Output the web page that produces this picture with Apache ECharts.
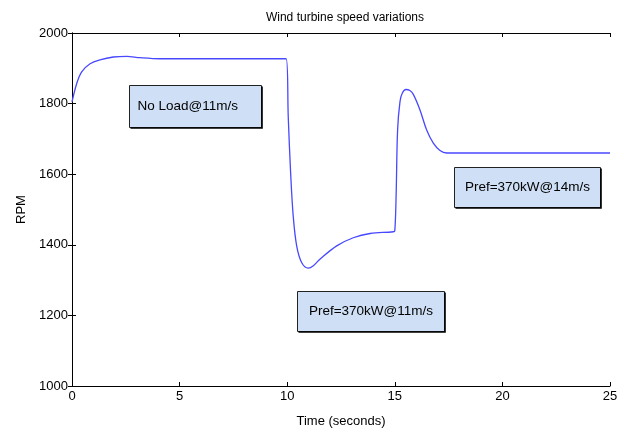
<!DOCTYPE html>
<html><head><meta charset="utf-8">
<script src="https://cdn.jsdelivr.net/npm/echarts@6/dist/echarts.min.js"></script>
<style>html,body{margin:0;padding:0;background:#fff}#c{width:624px;height:433px}</style>
</head><body><div id="c"></div>
<script>
var titleText = 'Wind turbine speed variations';
var xName = 'Time (seconds)';
var yName = 'RPM';
var xTicks = [0, 5, 10, 15, 20, 25];
var yTicks = [1000, 1200, 1400, 1600, 1800, 2000];
var timeS = [0, 0.22, 0.45, 0.84, 1.3, 1.92, 2.54, 3.16, 4.1, 6, 8, 9.95, 10.05, 10.16, 10.28, 10.44, 10.67, 10.98, 11.2, 11.52, 12.3, 13.07, 13.85, 14.93, 15.0, 15.06, 15.13, 15.24, 15.35, 15.52, 15.7, 15.86, 16.17, 16.48, 16.79, 17.1, 17.41, 18, 20, 22, 25];
var rpm =   [1805, 1857, 1890, 1913, 1924, 1932, 1934, 1930, 1927, 1927, 1927, 1927, 1760, 1603, 1481, 1397, 1350, 1334, 1340, 1359, 1397, 1420, 1432, 1437, 1440, 1537, 1725, 1805, 1830, 1840, 1837, 1826, 1782, 1725, 1688, 1667, 1660, 1660, 1660, 1660, 1660];
var noteText = ['No Load@11m/s', 'Pref=370kW@11m/s', 'Pref=370kW@14m/s'];
// box anchors (top-left / bottom-right) in data units
var noteX0 = [2.63, 10.47, 17.75];
var noteY0 = [1852, 1270, 1620];
var noteX1 = [8.8, 17.3, 24.55];
var noteY1 = [1735, 1155, 1507];

var chart = echarts.init(document.getElementById('c'));
var font = 'Liberation Sans, Arial, sans-serif';
var data = timeS.map(function(t, i){ return [t, rpm[i]]; });
var axisCommon = {
  axisLine: {show: true, lineStyle: {color: '#000', width: 1}},
  axisTick: {show: true, inside: true, length: 4, lineStyle: {color: '#000'}},
  splitLine: {show: false}
};
var lab = {fontFamily: font, fontSize: 13, color: '#000', margin: 4, formatter: function(v){ return String(v); }};
chart.setOption({
  animation: false,
  title: {text: titleText, left: 340, top: 7, textAlign: 'center',
    textStyle: {fontFamily: font, fontSize: 12, fontWeight: 'normal', color: '#000'}},
  grid: {left: 72, right: 14, top: 33, bottom: 45},
  xAxis: [
    Object.assign({type: 'value', min: xTicks[0], max: xTicks[xTicks.length-1], interval: 5, position: 'bottom',
      name: xName, nameLocation: 'middle', nameGap: 29,
      nameTextStyle: {fontFamily: font, fontSize: 13, color: '#000'},
      axisLabel: lab}, axisCommon),
    Object.assign({type: 'value', min: 0, max: 25, interval: 5, position: 'top', axisLabel: {show: false}}, axisCommon)
  ],
  yAxis: [
    Object.assign({type: 'value', min: yTicks[0], max: yTicks[yTicks.length-1], interval: 200, position: 'left',
      name: yName, nameLocation: 'middle', nameGap: 43, nameRotate: 90,
      nameTextStyle: {fontFamily: font, fontSize: 13, color: '#000'},
      axisLabel: lab}, axisCommon),
    Object.assign({type: 'value', min: 1000, max: 2000, interval: 200, position: 'right', axisLabel: {show: false}}, axisCommon)
  ],
  series: [{
    type: 'line', data: data, smooth: 0.35, showSymbol: false,
    lineStyle: {color: '#4848ff', width: 1.3}
  }]
});

var gfx = [];
noteText.forEach(function(t, i){
  var a = chart.convertToPixel({xAxisIndex: 0, yAxisIndex: 0}, [noteX0[i], noteY0[i]]);
  var b = chart.convertToPixel({xAxisIndex: 0, yAxisIndex: 0}, [noteX1[i], noteY1[i]]);
  var x0 = Math.round(a[0]) + 0.5, y0 = Math.round(a[1]) + 0.5, x1 = Math.round(b[0]) + 0.5, y1 = Math.round(b[1]) + 0.5;
  gfx.push({type: 'rect', shape: {x: x0, y: y0, width: x1 - x0, height: y1 - y0},
    style: {fill: '#cfe0f6', stroke: '#222', lineWidth: 1}, z: 10});
  gfx.push({type: 'polyline', shape: {points: [[x0 + 1, y1 + 0.5], [x1 + 0.5, y1 + 0.5], [x1 + 0.5, y0 + 1]]},
    style: {stroke: '#000', lineWidth: 1.6, fill: null}, z: 11});
  gfx.push({type: 'text', x: (i === 0 ? x0 + 8 : (x0 + x1) / 2), y: (y0 + y1) / 2,
    style: {text: t, fontFamily: font, fontSize: 13.5, fill: '#000',
      textAlign: i === 0 ? 'left' : 'center', textVerticalAlign: 'middle'}, z: 12});
});
chart.setOption({graphic: gfx});
</script></body></html>
